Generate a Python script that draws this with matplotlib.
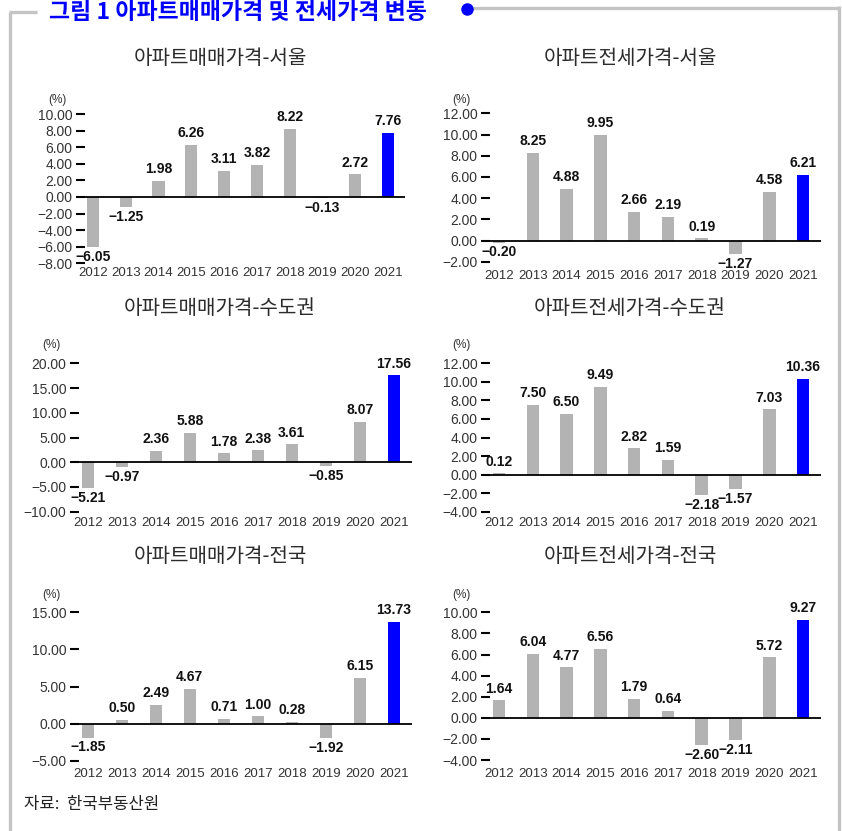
import matplotlib
matplotlib.use('Agg')
import matplotlib.pyplot as plt

# Annual change (%) of apartment sale / jeonse prices
years = ['2012', '2013', '2014', '2015', '2016', '2017', '2018', '2019', '2020', '2021']
seoul_sale = [-6.05, -1.25, 1.98, 6.26, 3.11, 3.82, 8.22, -0.13, 2.72, 7.76]
seoul_jeonse = [-0.20, 8.25, 4.88, 9.95, 2.66, 2.19, 0.19, -1.27, 4.58, 6.21]
metro_sale = [-5.21, -0.97, 2.36, 5.88, 1.78, 2.38, 3.61, -0.85, 8.07, 17.56]
metro_jeonse = [0.12, 7.50, 6.50, 9.49, 2.82, 1.59, -2.18, -1.57, 7.03, 10.36]
nation_sale = [-1.85, 0.50, 2.49, 4.67, 0.71, 1.00, 0.28, -1.92, 6.15, 13.73]
nation_jeonse = [1.64, 6.04, 4.77, 6.56, 1.79, 0.64, -2.60, -2.11, 5.72, 9.27]

titles = ['아파트매매가격-서울', '아파트전세가격-서울',
          '아파트매매가격-수도권', '아파트전세가격-수도권',
          '아파트매매가격-전국', '아파트전세가격-전국']
series = [seoul_sale, seoul_jeonse, metro_sale, metro_jeonse, nation_sale, nation_jeonse]
ylims = [(-8, 10), (-2, 12), (-10, 20), (-4, 12), (-5, 15), (-4, 10)]
ysteps = [2, 2, 5, 2, 5, 2]

W, H = 842, 831
GRAY = '#b3b3b3'
BLUE = '#0000ff'
KR = ['Noto Sans CJK KR', 'DejaVu Sans']
NUM = 'Liberation Sans'

# panel boxes in pixels: left, right, top, bottom, year label pad (pt)
boxes = [
    (75.6, 405.0, 114.0, 263.3, 2.5),
    (481.1, 820.6, 113.3, 261.7, 6.0),
    (69.8, 411.5, 363.3, 511.7, 4.0),
    (481.1, 820.6, 363.3, 511.7, 4.0),
    (69.8, 411.5, 612.3, 761.0, 4.7),
    (481.1, 820.6, 612.3, 760.0, 5.5),
]
title_pos = [(220, 58), (630, 58), (220, 308), (630, 308), (220, 557), (630, 557)]
pct_pos = [(57, 100), (461, 100), (51, 345), (461, 345), (51, 595), (461, 595)]

def fmt(v):
    return '{:.2f}'.format(v).replace('-', '\u2212')

fig = plt.figure(figsize=(W / 100, H / 100), dpi=100)

# overlay axes in pixel coords for frame, titles and notes
ov = fig.add_axes([0, 0, 1, 1])
ov.set_xlim(0, W)
ov.set_ylim(H, 0)
ov.axis('off')

frame_c = '#c4c4c4'
ov.plot([10, 10], [11.5, H], color=frame_c, lw=2.4, solid_capstyle='butt')
ov.plot([8.8, 37], [11.5, 11.5], color=frame_c, lw=2.4, solid_capstyle='butt')
ov.plot([467, 839], [7.5, 7.5], color=frame_c, lw=2.4, solid_capstyle='butt')
ov.plot([839, 839], [6.3, H], color=frame_c, lw=2.4, solid_capstyle='butt')
ov.plot([467], [8.5], 'o', color=BLUE, ms=8, zorder=5)

ov.text(49, 19, '그림 1 아파트매매가격 및 전세가격 변동', family=KR, fontsize=16.5,
        fontweight='bold', color=BLUE, ha='left', va='baseline')
ov.text(24, 805, '자료:  한국부동산원', family=KR, fontsize=12, color='#222222',
        ha='left', va='center')

for (tx, ty), t in zip(title_pos, titles):
    ov.text(tx, ty, t, family=KR, fontsize=14.5, color='#2b2b2b', ha='center', va='center')
for (px, py) in pct_pos:
    ov.text(px, py, '(%)', family=NUM, fontsize=8.5, color='#333333', ha='center', va='center')

x = list(range(len(years)))
colors = [GRAY] * (len(years) - 1) + [BLUE]

for i, vals in enumerate(series):
    L, R, T, B, pad = boxes[i]
    ax = fig.add_axes([L / W, 1 - B / H, (R - L) / W, (B - T) / H])
    ax.patch.set_alpha(0)
    ax.bar(x, vals, width=0.37, color=colors, zorder=2)
    ax.axhline(0, color='black', lw=1.3, zorder=3)
    lo, hi = ylims[i]
    ax.set_ylim(lo, hi)
    ax.set_xlim(-0.53, 9.52)
    ticks = list(range(lo, hi + 1, ysteps[i]))
    ax.set_yticks(ticks, [fmt(t) for t in ticks])
    ax.set_xticks(x, years)
    for s in ax.spines.values():
        s.set_visible(False)
    ax.tick_params(axis='y', direction='in', length=6.5, width=1.5, color='black',
                   pad=2.5, labelsize=10, labelcolor='#333333')
    ax.tick_params(axis='x', length=0, pad=pad, labelsize=9.5, labelcolor='#333333')
    for lab in ax.get_yticklabels() + ax.get_xticklabels():
        lab.set_family(NUM)
    for xi, v in zip(x, vals):
        ax.annotate(fmt(v), (xi, v), xytext=(0, 3.5 if v >= 0 else -2.0),
                    textcoords='offset points', ha='center',
                    va='bottom' if v >= 0 else 'top', family=NUM,
                    fontsize=10, fontweight='bold', color='#111111',
                    annotation_clip=False, zorder=4)

fig.savefig('out.png', dpi=100)
